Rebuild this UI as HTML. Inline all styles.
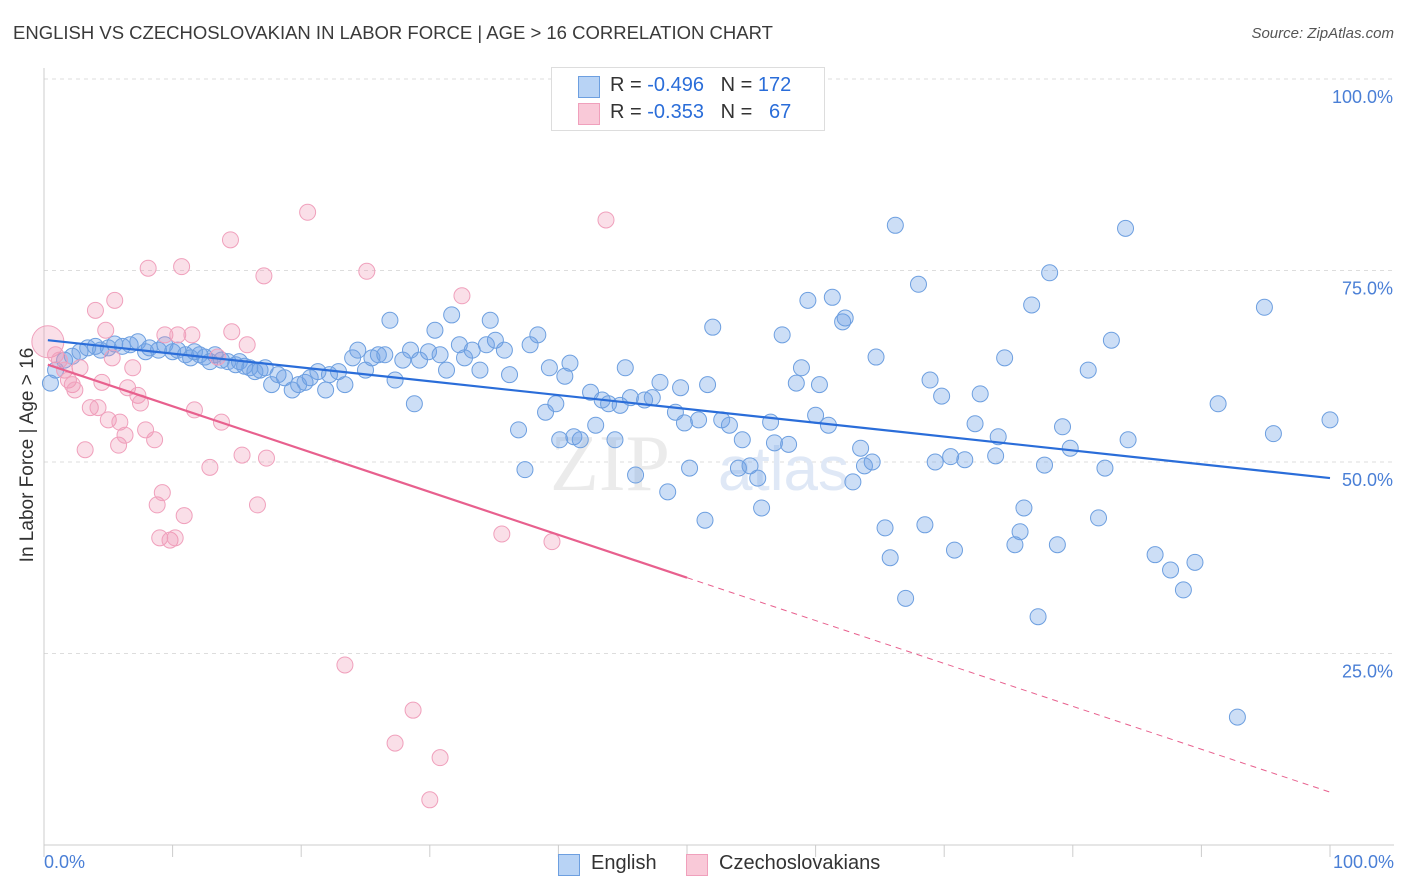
<!DOCTYPE html>
<html><head><meta charset="utf-8"><style>
body{margin:0;background:#fff;font-family:"Liberation Sans",sans-serif;}
#wrap{position:relative;width:1406px;height:892px;overflow:hidden;}
.t{position:absolute;white-space:nowrap;}
</style></head><body>
<div id="wrap">
<div class="t" style="left:13px;top:22px;font-size:18.5px;color:#3a3a3a;">ENGLISH VS CZECHOSLOVAKIAN IN LABOR FORCE | AGE &gt; 16 CORRELATION CHART</div>
<div class="t" style="right:12px;top:25px;font-size:15px;color:#555;font-style:italic;">Source: ZipAtlas.com</div>
<svg id="svg" width="1406" height="892" style="position:absolute;left:0;top:0"></svg>
</div>
<script>
const blueX=[0.5,0.9,1.6,2.2,2.8,3.4,4.0,4.4,5.0,5.5,6.1,6.7,7.3,7.9,8.2,8.9,9.4,10.0,10.4,11.0,11.4,11.7,12.1,12.5,12.9,13.3,13.8,14.3,14.9,15.2,15.6,16.0,16.4,16.8,17.2,17.7,18.2,18.7,19.3,19.8,20.3,20.7,21.3,21.9,22.2,22.9,23.4,24.0,24.4,25.0,25.5,26.0,26.5,26.9,27.3,27.9,28.5,28.8,29.2,29.9,30.4,30.8,31.3,31.7,32.3,32.7,33.3,33.9,34.4,34.7,35.1,35.8,36.2,36.9,37.4,37.8,38.4,39.0,39.3,39.8,40.1,40.5,40.9,41.2,41.7,42.5,42.9,43.4,43.9,44.4,44.8,45.2,45.6,46.0,46.7,47.3,47.9,48.5,49.1,49.5,49.8,50.2,50.9,51.4,51.6,52.0,52.7,53.3,54.0,54.3,54.9,55.5,55.8,56.5,56.8,57.4,57.9,58.5,58.9,59.4,60.0,60.3,61.0,61.3,62.1,62.3,62.9,63.5,63.8,64.4,64.7,65.4,65.8,66.2,67.0,68.0,68.5,68.9,69.3,69.8,70.5,70.8,71.6,72.4,72.8,74.0,74.2,74.7,75.5,75.9,76.2,76.8,77.3,77.8,78.2,78.8,79.2,79.8,81.2,82.0,82.5,83.0,84.1,84.3,86.4,87.6,88.6,89.5,91.3,92.8,94.9,95.6,100.0];
const blueY=[60.3,62.0,63.3,63.8,64.4,64.9,65.1,64.6,64.9,65.4,65.1,65.3,65.7,64.4,64.9,64.6,65.3,64.4,64.6,64.0,63.6,64.4,64.0,63.7,63.1,64.0,63.3,63.1,62.7,63.1,62.5,62.3,61.8,62.0,62.3,60.1,61.4,61.0,59.4,60.1,60.4,61.0,61.8,59.4,61.4,61.8,60.1,63.6,64.6,62.0,63.6,64.0,64.0,68.5,60.7,63.3,64.6,57.6,63.3,64.4,67.2,64.0,62.0,69.2,65.3,63.6,64.6,62.0,65.3,68.5,65.9,64.6,61.4,54.2,49.0,65.3,66.6,56.5,62.3,57.6,52.9,61.2,62.9,53.3,52.9,59.1,54.8,58.1,57.6,52.9,57.4,62.3,58.4,48.3,58.1,58.4,60.4,46.1,56.5,59.7,55.1,49.2,55.5,42.4,60.1,67.6,55.5,54.8,49.2,52.9,49.5,47.9,44.0,55.2,52.5,66.6,52.3,60.3,62.3,71.1,56.1,60.1,54.8,71.5,68.3,68.8,47.4,51.8,49.5,50.0,63.7,41.4,37.5,80.9,32.2,73.2,41.8,60.7,50.0,58.6,50.7,38.5,50.3,55.0,58.9,50.8,53.3,63.6,39.2,40.9,44.0,70.5,29.8,49.6,74.7,39.2,54.6,51.8,62.0,42.7,49.2,65.9,80.5,52.9,37.9,35.9,33.3,36.9,57.6,16.7,70.2,53.7,55.5];
const pinkX=[0.9,1.2,1.6,1.9,2.2,2.4,2.8,3.2,3.6,4.0,4.2,4.5,4.8,5.0,5.3,5.5,5.8,5.9,6.3,6.5,6.9,7.3,7.5,7.9,8.1,8.6,8.8,9.0,9.2,9.4,9.8,10.2,10.4,10.7,10.9,11.5,11.7,12.9,13.5,13.8,14.5,14.6,15.4,15.8,16.6,17.1,17.3,20.5,23.4,25.1,27.3,28.7,30.0,30.8,32.5,35.6,39.5,43.7];
const pinkY=[64.0,63.3,62.0,60.7,60.1,59.4,62.3,51.6,57.1,69.8,57.1,60.4,67.2,55.5,63.6,71.1,52.2,55.2,53.5,59.7,62.3,58.7,57.7,54.2,75.3,52.9,44.4,40.1,46.0,66.6,39.8,40.1,66.6,75.5,43.0,66.6,56.8,49.3,63.7,55.2,79.0,67.0,50.9,65.3,44.4,74.3,50.5,82.6,23.5,74.9,13.3,17.6,5.9,11.4,71.7,40.6,39.6,81.6];
const blueTrend=[[0.3,65.9],[100,47.9]];
const pinkTrend=[[0.3,62.7],[50,34.9],[100,6.9]];
const yTicks=[100,75,50,25];
const yTickLabels=["100.0%","75.0%","50.0%","25.0%"];

const X0=44,X1=1330,Y0=845,Y100=79;
const sx=v=>X0+(X1-X0)*v/100;
const sy=v=>Y0-(Y0-Y100)*v/100;
const NS="http://www.w3.org/2000/svg";
const svg=document.getElementById('svg');
function mk(tag,attrs,parent){const e=document.createElementNS(NS,tag);for(const k in attrs)e.setAttribute(k,attrs[k]);(parent||svg).appendChild(e);return e;}

yTicks.forEach((v,i)=>{
  const g=mk('line',{x1:X0,x2:1394,y1:sy(v),y2:sy(v),stroke:'#ddd','stroke-dasharray':'4,4'});
  
  
  const t=mk('text',{x:1393,y:sy(v)+24,'text-anchor':'end','font-size':18,fill:'#4a7fd6','font-family':'Liberation Sans'});
  t.textContent=yTickLabels[i];
  
  
});
const ax=mk('line',{x1:X0,x2:1394,y1:Y0,y2:Y0,stroke:'#ccc'});


const ay=mk('line',{x1:X0,x2:X0,y1:68,y2:Y0,stroke:'#ccc'});


for(let i=0;i<=10;i++){
  const tk=mk('line',{x1:sx(i*10),x2:sx(i*10),y1:Y0,y2:Y0+12,stroke:'#ccc'});
  
  
}
const wm=mk('text',{x:610,y:490,'text-anchor':'middle','font-size':80,fill:'#ebebeb','font-family':'Liberation Serif'});
wm.textContent='ZIP';


const wm2=mk('text',{x:718,y:490,'font-size':62,fill:'#dfe8f6','font-family':'Liberation Sans'});
wm2.textContent='atlas';



blueX.forEach((x,i)=>{
  const c=mk('circle',{cx:sx(x),cy:sy(blueY[i]),r:8,fill:'rgba(110,160,230,0.35)',stroke:'#6d9fe0','stroke-width':1});
  
  
});
const big=mk('circle',{cx:sx(0.3),cy:sy(65.7),r:16,fill:'rgba(240,150,180,0.3)',stroke:'#f0a0bc'});


pinkX.forEach((x,i)=>{
  const c=mk('circle',{cx:sx(x),cy:sy(pinkY[i]),r:8,fill:'rgba(240,150,180,0.3)',stroke:'#f0a0bc','stroke-width':1});
  
  
});
const bl=mk('line',{x1:sx(blueTrend[0][0]),y1:sy(blueTrend[0][1]),x2:sx(blueTrend[1][0]),y2:sy(blueTrend[1][1]),stroke:'#2a6dd9','stroke-width':2.2});


const pl=mk('line',{x1:sx(pinkTrend[0][0]),y1:sy(pinkTrend[0][1]),x2:sx(pinkTrend[1][0]),y2:sy(pinkTrend[1][1]),stroke:'#e8608e','stroke-width':2.2});


const pd=mk('line',{x1:sx(pinkTrend[1][0]),y1:sy(pinkTrend[1][1]),x2:sx(pinkTrend[2][0]),y2:sy(pinkTrend[2][1]),stroke:'#e8608e','stroke-width':1,'stroke-dasharray':'6,5'});


</script>
<div class="t" style="left:-92px;top:444px;width:240px;text-align:center;font-size:19px;color:#333;transform:rotate(-90deg);">In Labor Force | Age &gt; 16</div>
<div class="t" style="left:44px;top:852px;font-size:18px;color:#4a7fd6;">0.0%</div>
<div class="t" style="right:12px;top:852px;font-size:18px;color:#4a7fd6;">100.0%</div>
<div style="position:absolute;left:551px;top:67px;width:272px;height:62px;border:1px solid #ddd;background:#fff;font-size:20px;color:#333;">
  <div style="position:absolute;left:26px;top:8px;width:20px;height:20px;background:#b8d3f5;border:1px solid #6d9fe0;"></div>
  <div class="t" style="left:58px;top:6px;">R = <span style="color:#2a6dd9">-0.496</span>&nbsp;&nbsp;&nbsp;N = <span style="color:#2a6dd9">172</span></div>
  <div style="position:absolute;left:26px;top:35px;width:20px;height:20px;background:#f9c9d8;border:1px solid #f0a0bc;"></div>
  <div class="t" style="left:58px;top:33px;">R = <span style="color:#2a6dd9">-0.353</span>&nbsp;&nbsp;&nbsp;N = &nbsp;&nbsp;<span style="color:#2a6dd9">67</span></div>
</div>
<div style="position:absolute;left:558px;top:852px;font-size:20px;color:#333;">
  <div style="position:absolute;left:0;top:2px;width:20px;height:20px;background:#b8d3f5;border:1px solid #6d9fe0;"></div>
  <div class="t" style="left:33px;top:0;">English</div>
  <div style="position:absolute;left:128px;top:2px;width:20px;height:20px;background:#f9c9d8;border:1px solid #f0a0bc;"></div>
  <div class="t" style="left:161px;top:0;">Czechoslovakians</div>
</div>
</body></html>
